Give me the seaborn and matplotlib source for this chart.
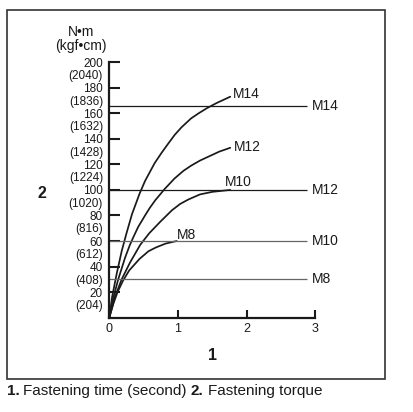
import matplotlib
matplotlib.use('Agg')
import matplotlib.pyplot as plt
import pandas as pd
import seaborn as sns
from matplotlib.patches import Rectangle
from matplotlib.transforms import ScaledTranslation

# fastening curves: time (s) -> torque (N·m)
m14_time = [0, 0.04, 0.11, 0.18, 0.25, 0.33, 0.44, 0.52, 0.59, 0.66, 0.76, 0.84,
            0.95, 1.05, 1.19, 1.30, 1.42, 1.56, 1.76]
m14_torque = [0, 16, 35, 52, 66, 81, 97, 107, 114, 121, 129, 135,
              143, 149, 156, 160, 164, 168, 173]
m12_time = [0, 0.06, 0.13, 0.23, 0.30, 0.35, 0.42, 0.52, 0.59, 0.67, 0.81, 0.95,
            1.08, 1.19, 1.32, 1.44, 1.60, 1.76]
m12_torque = [0, 16, 30, 47, 57, 63, 71, 80, 86, 92, 101, 109,
              115, 119, 123, 126, 130, 133]
m10_time = [0, 0.08, 0.18, 0.30, 0.45, 0.58, 0.74, 0.91, 1.03, 1.15, 1.32, 1.50, 1.76]
m10_torque = [0, 16, 30, 43, 57, 66, 75, 84, 89, 92.5, 96.5, 98.5, 100]
m8_time = [0, 0.06, 0.12, 0.20, 0.29, 0.44, 0.57, 0.68, 0.82, 0.98]
m8_torque = [0, 11, 20, 29, 37, 46, 52, 55, 58, 60]

bolts = ['M14', 'M12', 'M10', 'M8']

# horizontal reference torques and their labels
limit_torque = [166, 100, 60, 30]
limit_labels = ['M14', 'M12', 'M10', 'M8']
limit_colors = ['#1a1a1a', '#1a1a1a', '#666666', '#666666']

# tick labels
y_ticks = [20, 40, 60, 80, 100, 120, 140, 160, 180, 200]
y_kgf = [204, 408, 612, 816, 1020, 1224, 1428, 1632, 1836, 2040]
x_ticks = [0, 1, 2, 3]

curves = pd.concat([
    pd.DataFrame({'time': m14_time, 'torque': m14_torque, 'bolt': 'M14'}),
    pd.DataFrame({'time': m12_time, 'torque': m12_torque, 'bolt': 'M12'}),
    pd.DataFrame({'time': m10_time, 'torque': m10_torque, 'bolt': 'M10'}),
    pd.DataFrame({'time': m8_time, 'torque': m8_torque, 'bolt': 'M8'}),
], ignore_index=True)

sns.set_theme(style='white')
plt.rcParams['font.family'] = ['Liberation Sans', 'DejaVu Sans']

fig = plt.figure(figsize=(4.14, 4.12), dpi=100)
ax = fig.add_axes([0.264, 0.229, 0.498, 0.620])

sns.lineplot(data=curves, x='time', y='torque', hue='bolt',
             palette={b: '#1a1a1a' for b in bolts}, estimator=None,
             sort=False, legend=False, linewidth=1.25, ax=ax,
             solid_joinstyle='round', solid_capstyle='round')

ax.hlines(limit_torque, 0, 2.88, colors=limit_colors, linewidth=0.9)
for val, lab in zip(limit_torque, limit_labels):
    ax.text(2.95, val, lab, fontsize=10, va='center', ha='left', color='#1a1a1a')

# label each curve near its end
end_offsets = {'M14': (0.04, 2.5), 'M12': (0.055, 0.5), 'M10': (-0.08, 6), 'M8': (0.01, 4.5)}
for b in bolts:
    sub = curves[curves['bolt'] == b]
    dx, dy = end_offsets[b]
    ax.text(sub['time'].iloc[-1] + dx, sub['torque'].iloc[-1] + dy, b,
            fontsize=10, va='center', ha='left', color='#1a1a1a')

ax.set_xlim(0, 3)
ax.set_ylim(0, 200)
ax.set_xticks(x_ticks)
ax.set_xticklabels([str(t) for t in x_ticks])
ax.set_yticks(y_ticks)
ax.set_yticklabels([f'{t}\n({k})' for t, k in zip(y_ticks, y_kgf)])
ax.set_xlabel('')
ax.set_ylabel('')

for side in ['top', 'right']:
    ax.spines[side].set_visible(False)
for side in ['left', 'bottom']:
    ax.spines[side].set_linewidth(1.6)
    ax.spines[side].set_color('#1a1a1a')

ax.tick_params(axis='y', direction='in', length=8, width=1.5, pad=4.5,
               labelsize=8.5, left=True, colors='#1a1a1a')
ax.tick_params(axis='x', direction='in', length=6, width=1.5, pad=3.5,
               labelsize=9, bottom=True, colors='#1a1a1a')

# first line of each y label sits at its tick (after tick_params, which resets transforms)
shift = ScaledTranslation(0, -6 / 100, fig.dpi_scale_trans)
for lbl in ax.get_yticklabels():
    lbl.set_linespacing(1.05)
    lbl.set_transform(lbl.get_transform() + shift)

# units above the y axis, axis numbers
fig.text(81 / 414, 1 - 39 / 412, 'N•m\n(kgf•cm)', fontsize=10, ha='center',
         va='center', linespacing=0.95, color='#1a1a1a')
fig.text(42 / 414, 1 - 194 / 412, '2', fontsize=11.5, fontweight='bold',
         ha='center', va='center', color='#1a1a1a')
fig.text(213 / 414, 1 - 355 / 412, '1', fontsize=11.5, fontweight='bold',
         ha='center', va='center', color='#1a1a1a')

# frame
fig.patches.append(Rectangle((7 / 414, 33 / 412), 378 / 414, 369 / 412,
                             transform=fig.transFigure, fill=False,
                             linewidth=1.2, edgecolor='#333333'))

# caption below frame
cap_y = 1 - 395 / 412
fig.text(7 / 414, cap_y, '1.', fontsize=11, fontweight='bold', va='baseline', color='#1a1a1a')
fig.text(23 / 414, cap_y, 'Fastening time (second)', fontsize=11, va='baseline', color='#1a1a1a')
fig.text(191 / 414, cap_y, '2.', fontsize=11, fontweight='bold', va='baseline', color='#1a1a1a')
fig.text(208 / 414, cap_y, 'Fastening torque', fontsize=11, va='baseline', color='#1a1a1a')

fig.savefig('out.png', dpi=100)
